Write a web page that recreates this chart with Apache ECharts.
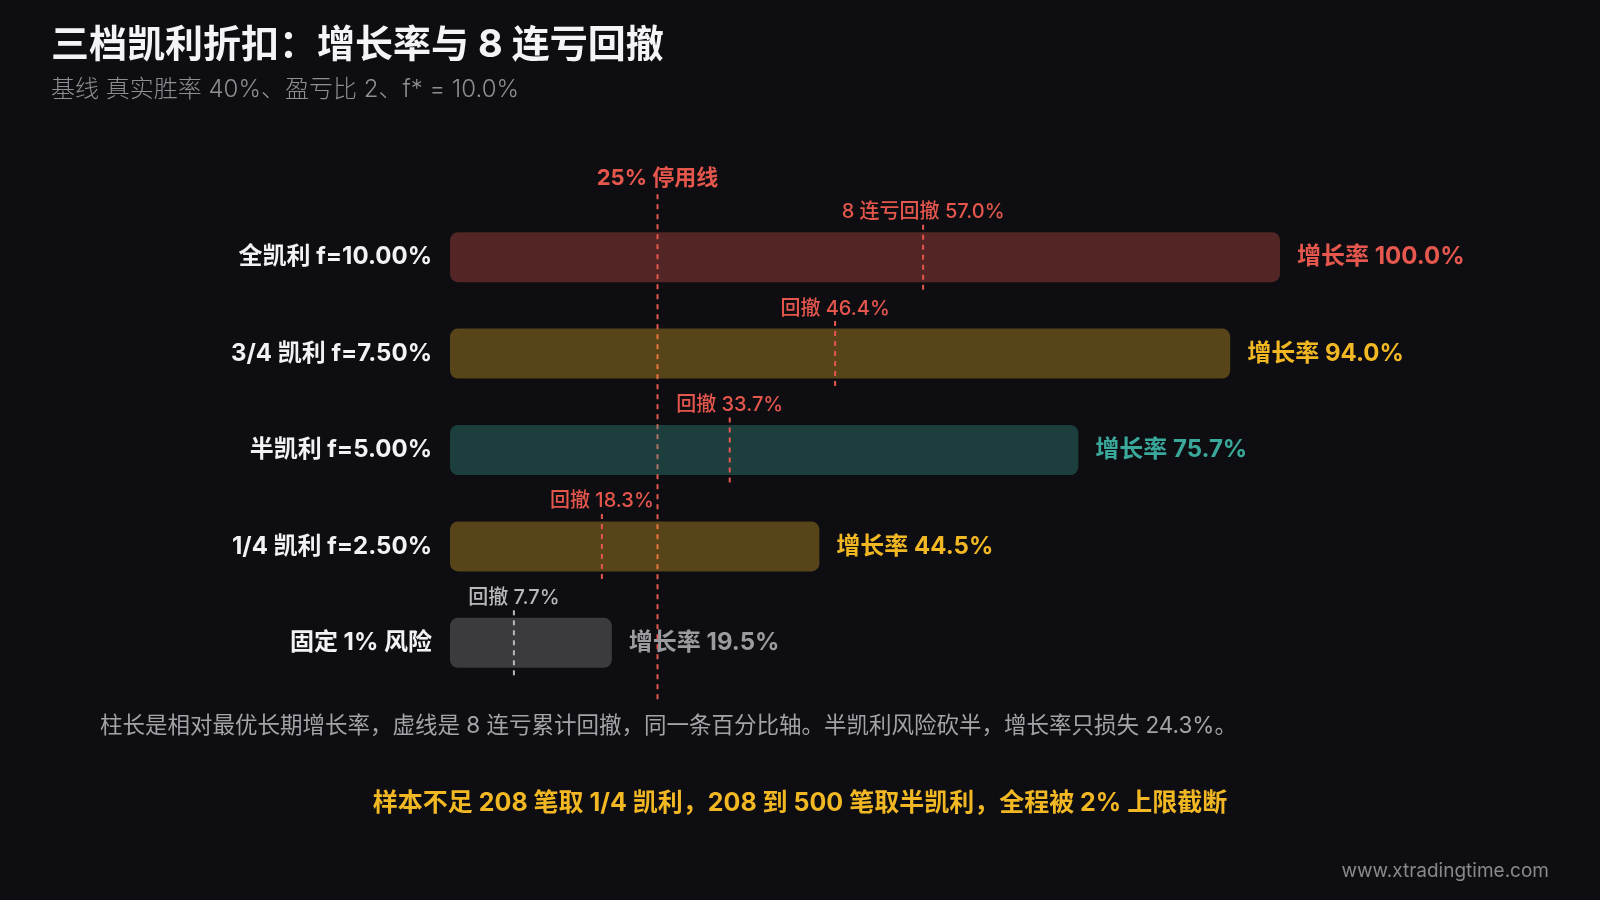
<!DOCTYPE html>
<html><head><meta charset="utf-8">
<script src="https://cdn.jsdelivr.net/npm/echarts@6.0.0/dist/echarts.min.js"></script>
<style>html,body{margin:0;padding:0;background:#0e0e12;}#c{width:1600px;height:900px;}</style>
</head><body><div id="c"></div>
<script>
// ---- data ----
const categories = ['全凯利 f=10.00%', '3/4 凯利 f=7.50%', '半凯利 f=5.00%', '1/4 凯利 f=2.50%', '固定 1% 风险'];
const growthRate = [100.0, 94.0, 75.7, 44.5, 19.5];
const drawdown8 = [57.0, 46.4, 33.7, 18.3, 7.7];
const drawdownPrefix = ['8 连亏回撤', '回撤', '回撤', '回撤', '回撤'];
const stopLineValue = 25;
const stopLineLabel = '25% 停用线';
const titleText = '三档凯利折扣：增长率与 8 连亏回撤';
const subtitleText = '基线 真实胜率 40%、盈亏比 2、f* = 10.0%';
const noteText = '柱长是相对最优长期增长率，虚线是 8 连亏累计回撤，同一条百分比轴。半凯利风险砍半，增长率只损失 24.3%。';
const highlightText = '样本不足 208 笔取 1/4 凯利，208 到 500 笔取半凯利，全程被 2% 上限截断';
const watermarkText = 'www.xtradingtime.com';

// ---- styles ----
const FONT = 'Inter, "Noto Sans CJK SC", sans-serif';
const labelRGB = [[230, 88, 78], [242, 184, 36], [58, 168, 154], [242, 184, 36], [155, 155, 160]];
const ddColors = ['#e5564c', '#e5564c', '#e5564c', '#e5564c', '#b8b8bd'];
const rgb = (c, a) => a == null ? `rgb(${c[0]},${c[1]},${c[2]})` : `rgba(${c[0]},${c[1]},${c[2]},${a})`;

const chart = echarts.init(document.getElementById('c'), null, {renderer: 'canvas'});

const option = {
  backgroundColor: '#0e0e12',
  animation: false,
  grid: {left: 450, top: 209, width: 830, height: 482, containLabel: false},
  xAxis: {type: 'value', min: 0, max: 100, show: false},
  yAxis: {
    type: 'category', data: categories, inverse: true,
    axisLine: {show: false}, axisTick: {show: false}, splitLine: {show: false},
    axisLabel: {color: '#f2f2f4', fontSize: 24, fontWeight: 'bold', fontFamily: FONT, margin: 18}
  },
  series: [
    {
      type: 'custom', z: 1,
      data: [[stopLineValue]],
      renderItem: function (params, api) {
        const top = api.coord([api.value(0), 0]);
        const bot = api.coord([api.value(0), categories.length - 1]);
        return {type: 'group', children: [
          {type: 'line', shape: {x1: top[0], y1: top[1] - 63, x2: bot[0], y2: bot[1] + 57},
           style: {stroke: '#e5564c', lineWidth: 2, lineDash: [5, 5]}},
          {type: 'text', x: top[0], y: top[1] - 79,
           style: {text: stopLineLabel, fill: '#e5564c', font: 'bold 22px ' + FONT,
                   textAlign: 'center', textVerticalAlign: 'middle', align: 'center', verticalAlign: 'middle'}}
        ]};
      }
    },
    {
      type: 'bar', z: 2, barWidth: 50,
      data: growthRate.map((v, i) => ({
        value: v,
        itemStyle: {color: rgb(labelRGB[i], 0.32), borderRadius: 8},
        label: {color: rgb(labelRGB[i])}
      })),
      label: {
        show: true, position: 'right', distance: 17,
        fontSize: 24, fontWeight: 'bold', fontFamily: FONT,
        formatter: p => '增长率 ' + p.value.toFixed(1) + '%'
      }
    },
    {
      type: 'custom', z: 3,
      data: drawdown8.map((v, i) => [v, i]),
      renderItem: function (params, api) {
        const i = api.value(1);
        const p = api.coord([api.value(0), i]);
        return {type: 'group', children: [
          {type: 'line', shape: {x1: p[0], y1: p[1] - 32.5, x2: p[0], y2: p[1] + 32.5},
           style: {stroke: ddColors[i], lineWidth: 2, lineDash: [5, 5]}},
          {type: 'text', x: p[0], y: p[1] - 45,
           style: {text: drawdownPrefix[i] + ' ' + drawdown8[i].toFixed(1) + '%', fill: ddColors[i],
                   font: '500 20px ' + FONT,
                   textAlign: 'center', textVerticalAlign: 'middle', align: 'center', verticalAlign: 'middle'}}
        ]};
      }
    }
  ],
  graphic: [
    {type: 'text', left: 51, top: 27, style: {text: titleText, fill: '#f4f4f6', font: 'bold 38px ' + FONT}},
    {type: 'text', left: 51, top: 78, style: {text: subtitleText, fill: '#8e8e93', font: '300 24px ' + FONT}},
    {type: 'text', left: 100, top: 715, style: {text: noteText, fill: '#a3a3a8', font: '22.5px ' + FONT}},
    {type: 'text', left: 'center', top: 791, style: {text: highlightText, fill: '#f2b824', font: 'bold 25px ' + FONT}},
    {type: 'text', right: 51, top: 862, style: {text: watermarkText, fill: '#88888d', font: '19px ' + FONT}}
  ]
};
chart.setOption(option);
</script>
</body></html>
